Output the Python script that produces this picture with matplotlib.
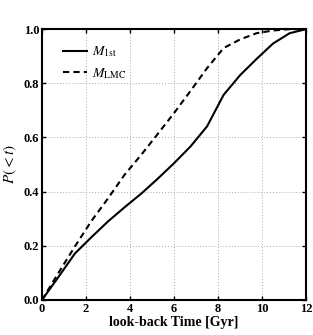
import numpy as np
import matplotlib
matplotlib.use('Agg')
import matplotlib.pyplot as plt

# look-back time grid and cumulative fractions
t = [0, 0.75, 1.5, 2.25, 3.0, 3.75, 4.5, 5.25, 6.0, 6.75, 7.5, 8.25, 9.0, 9.75, 10.5, 11.25, 12.0]
p_1st = [0, 0.085, 0.172, 0.232, 0.29, 0.342, 0.392, 0.447, 0.505, 0.567, 0.641, 0.757, 0.83, 0.89, 0.947, 0.985, 1.0]
p_lmc = [0, 0.1, 0.198, 0.292, 0.375, 0.462, 0.535, 0.612, 0.69, 0.772, 0.856, 0.93, 0.962, 0.985, 0.995, 1.0, 1.0]

x_ticks = [0, 2, 4, 6, 8, 10, 12]
y_ticks = [0.0, 0.2, 0.4, 0.6, 0.8, 1.0]

plt.rcParams['font.family'] = 'Liberation Serif'
plt.rcParams['mathtext.fontset'] = 'stix'

fig = plt.figure(figsize=(3.13, 3.35), dpi=100)
ax = fig.add_axes([0.134, 0.1045, 0.844, 0.8085])

ax.plot(t, p_1st, '-', color='black', lw=1.5, label=r'$M_{\rm 1st}$')
ax.plot(t, p_lmc, '--', color='black', lw=1.5, dashes=(3, 2), label=r'$M_{\rm LMC}$')

ax.set_xlim(0, 12)
ax.set_ylim(0, 1)
ax.set_xticks(x_ticks)
ax.set_yticks(y_ticks)
ax.set_xticklabels([str(v) for v in x_ticks], fontweight='bold', fontsize=9)
ax.set_yticklabels([f'{v:.1f}' for v in y_ticks], fontweight='bold', fontsize=9)
ax.tick_params(direction='in', top=True, right=True, length=3, width=1, pad=2)
ax.grid(True, linestyle=(0, (1, 2)), color='#aaaaaa', lw=0.7)
for s in ax.spines.values():
    s.set_linewidth(1.5)

ax.set_xlabel('look-back Time [Gyr]', fontweight='bold', fontsize=10, labelpad=1)
ax.set_ylabel(r'$P(<t)$', fontsize=11, labelpad=3)

ax.legend(loc='upper left', bbox_to_anchor=(0.023, 1.0), frameon=False, fontsize=10,
          handlelength=1.7, handletextpad=0.4, borderaxespad=0.7, labelspacing=0.5)

fig.savefig('out.png', dpi=100)
